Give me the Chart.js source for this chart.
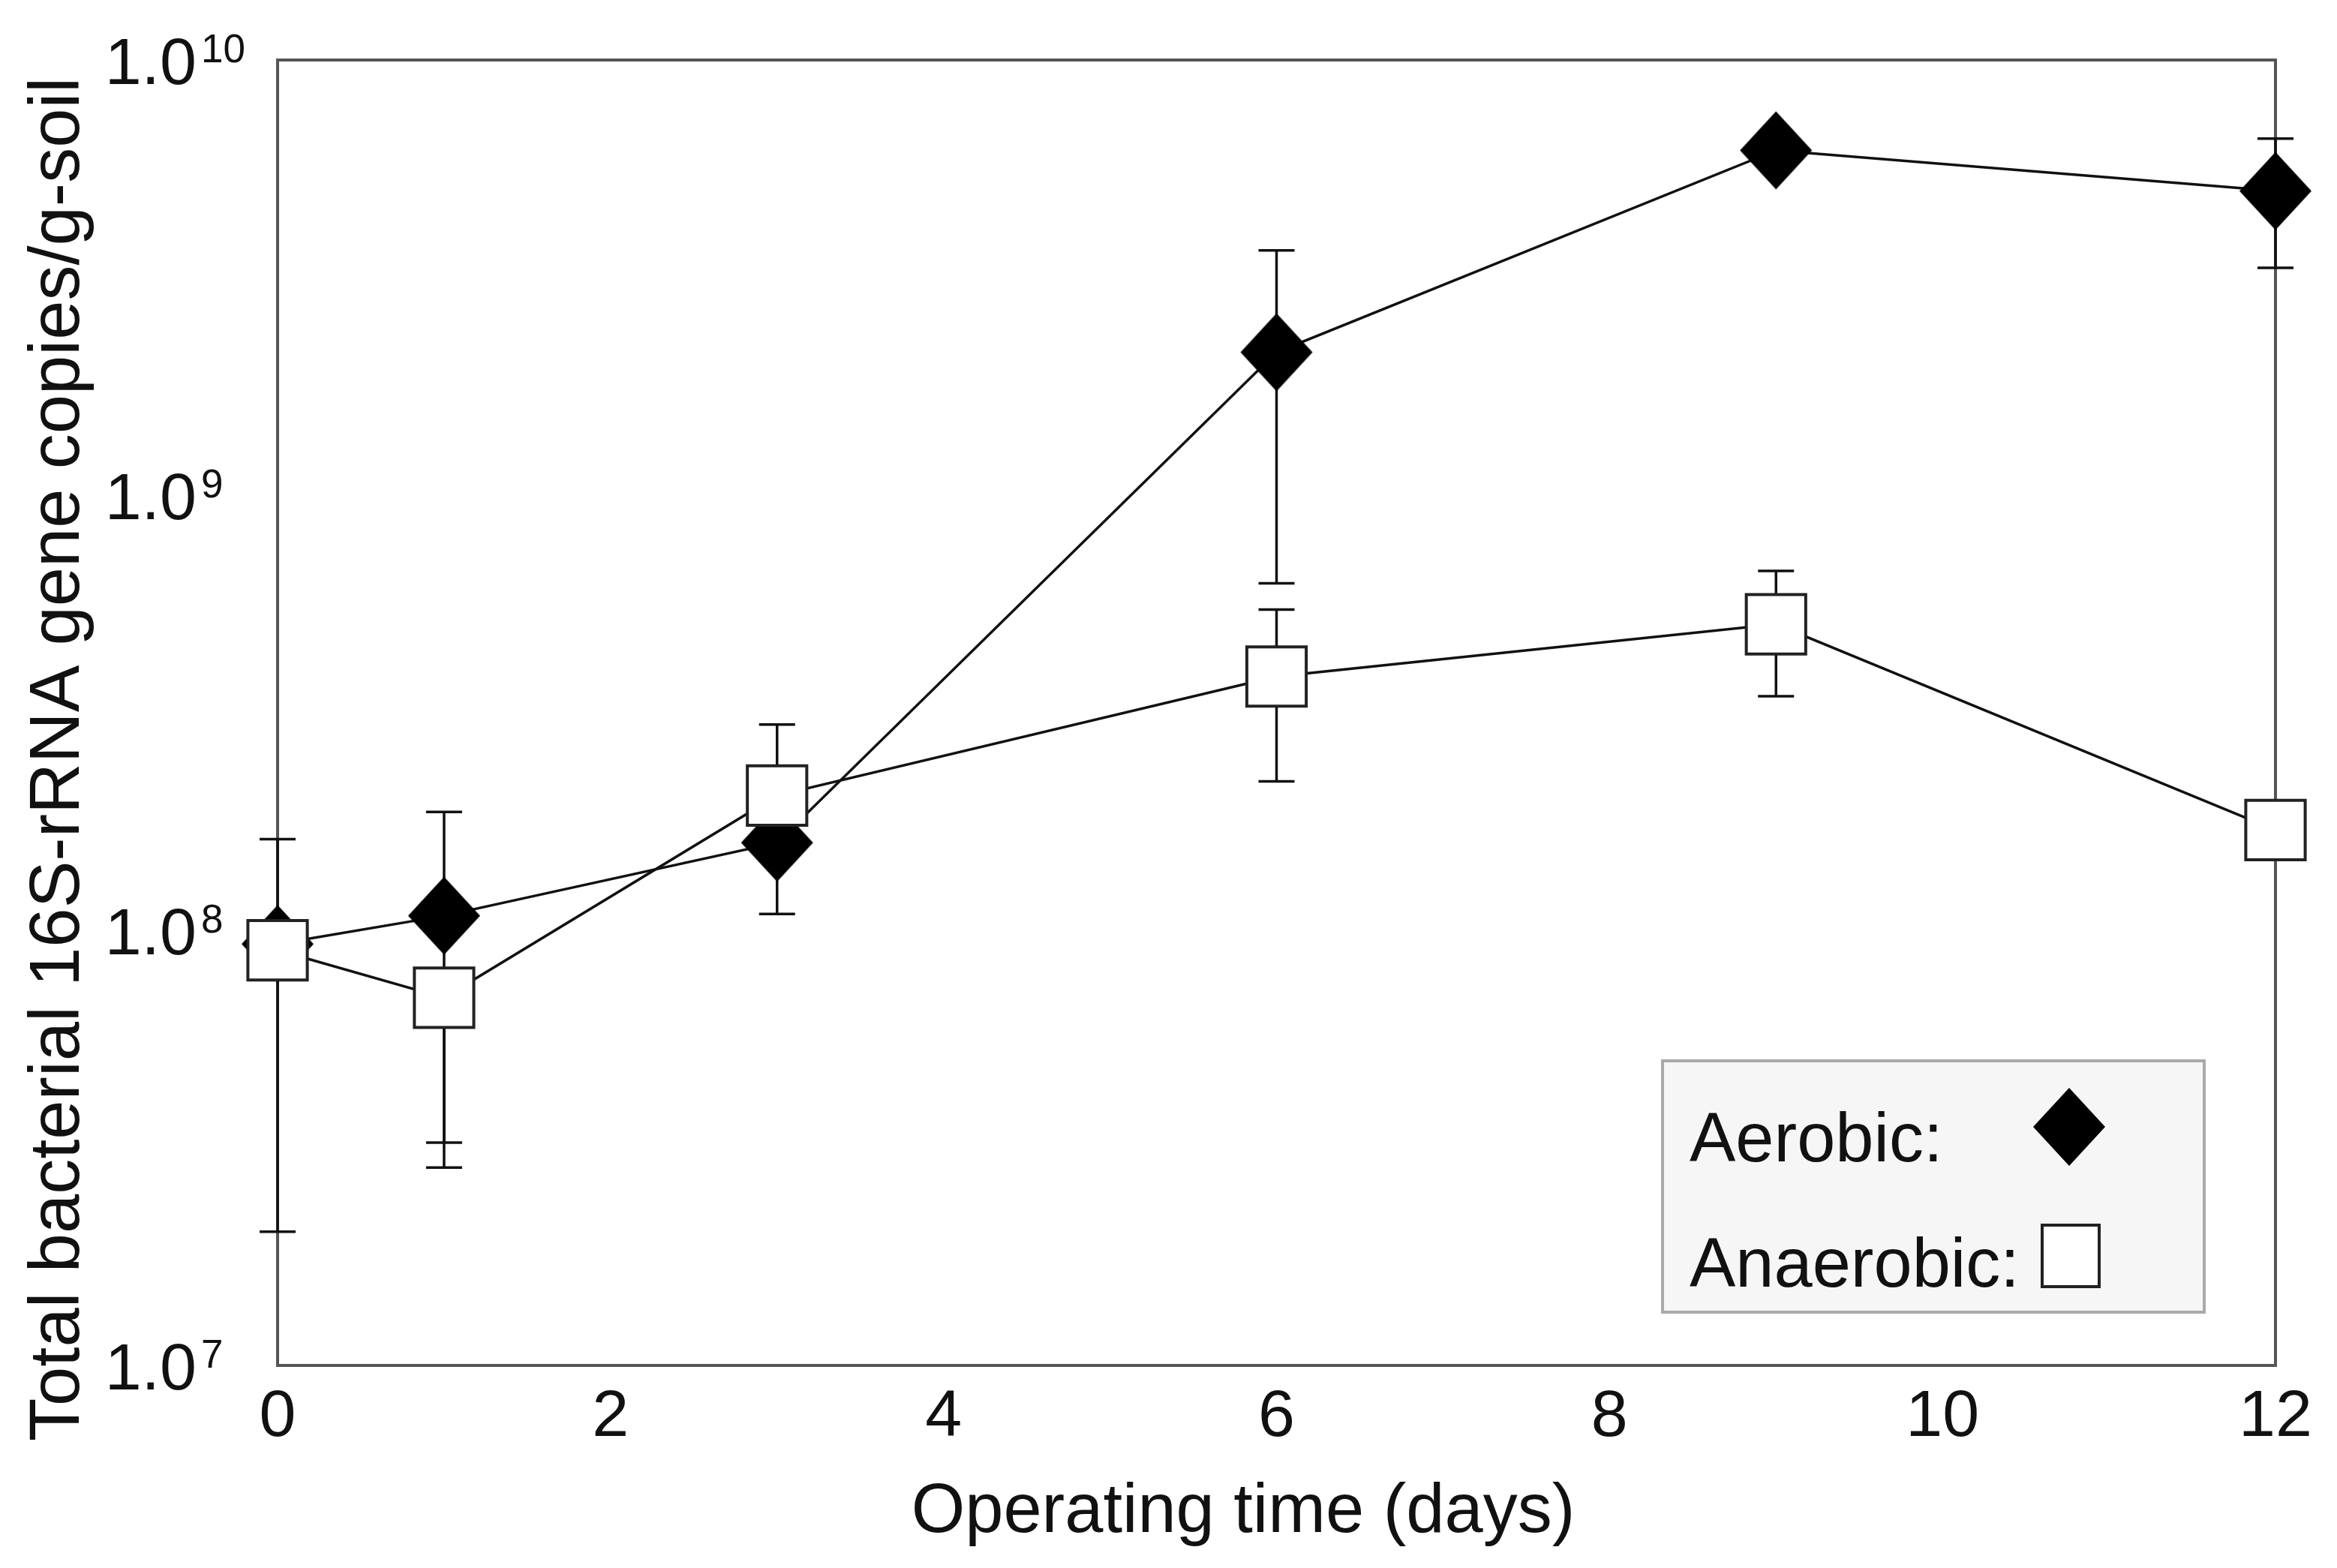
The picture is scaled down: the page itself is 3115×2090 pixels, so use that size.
<!DOCTYPE html>
<html>
<head>
<meta charset="utf-8">
<title>Total bacterial 16S-rRNA gene copies</title>
<script src="https://cdn.jsdelivr.net/npm/chart.js@4/dist/chart.umd.min.js"></script>
<style>
  html, body { margin: 0; padding: 0; background: #fff; }
  #wrap { width: 3115px; height: 2090px; }
</style>
</head>
<body>
<div id="wrap"><canvas id="soilChart" width="3115" height="2090"></canvas></div>
<script>
// ==================== DATA ====================
const days = [0, 1, 3, 6, 9, 12];

const aerobicMean = [9.3e7, 1.08e8, 1.59e8, 2.13e9, 6.2e9, 5.0e9];
const aerobicLow  = [2.03e7, 2.85e7, 1.09e8, 6.27e8, null, 3.33e9];
const aerobicHigh = [1.62e8, 1.87e8, 2.0e8, 3.65e9, null, 6.6e9];

const anaerobicMean = [9.0e7, 7.0e7, 2.04e8, 3.83e8, 5.05e8, 1.70e8];
const anaerobicLow  = [null, 3.25e7, 1.6e8, 2.2e8, 3.45e8, null];
const anaerobicHigh = [null, null, 2.97e8, 5.46e8, 6.7e8, null];

const xTicks = [0, 2, 4, 6, 8, 10, 12];
const yTickExps = [7, 8, 9, 10];

const FONT = '"Liberation Sans", Arial, sans-serif';

// diamond marker (slightly taller than wide, like the original)
function makeDiamond(w, h) {
    const c = document.createElement('canvas');
    c.width = w + 4; c.height = h + 4;
    const g = c.getContext('2d');
    g.fillStyle = '#000';
    g.beginPath();
    g.moveTo(c.width / 2, 2);
    g.lineTo(c.width - 2, c.height / 2);
    g.lineTo(c.width / 2, c.height - 2);
    g.lineTo(2, c.height / 2);
    g.closePath();
    g.fill();
    return c;
}
const diamond = makeDiamond(96, 104);

// ==================== PLUGINS ====================
const errorBars = {
    id: 'errorBars',
    beforeDatasetsDraw(chart) {
        const { ctx, scales: { x, y } } = chart;
        const sets = [[aerobicLow, aerobicHigh, aerobicMean], [anaerobicLow, anaerobicHigh, anaerobicMean]];
        ctx.save();
        ctx.strokeStyle = '#111';
        ctx.lineWidth = 3.5;
        sets.forEach(([lo, hi, mean]) => {
            days.forEach((d, i) => {
                const px = x.getPixelForValue(d);
                const pm = y.getPixelForValue(mean[i]);
                [lo[i], hi[i]].forEach(v => {
                    if (v == null) return;
                    const pv = y.getPixelForValue(v);
                    ctx.beginPath();
                    ctx.moveTo(px, pm); ctx.lineTo(px, pv);
                    ctx.moveTo(px - 24, pv); ctx.lineTo(px + 24, pv);
                    ctx.stroke();
                });
            });
        });
        ctx.restore();
    }
};

const frameAndText = {
    id: 'frameAndText',
    beforeDatasetsDraw(chart) {
        const { ctx, chartArea: a, scales: { x, y } } = chart;
        ctx.save();
        // plot frame
        ctx.strokeStyle = '#555';
        ctx.lineWidth = 4;
        ctx.strokeRect(a.left, a.top, a.right - a.left, a.bottom - a.top);

        ctx.fillStyle = '#111';
        // x tick labels
        ctx.font = '88px ' + FONT;
        ctx.textAlign = 'center';
        ctx.textBaseline = 'alphabetic';
        xTicks.forEach(t => ctx.fillText(String(t), x.getPixelForValue(t), 1914));

        // y tick labels: 1.0 with superscript exponent
        yTickExps.forEach(e => {
            const py = y.getPixelForValue(Math.pow(10, e));
            ctx.font = '88px ' + FONT;
            ctx.textAlign = 'right';
            ctx.fillText('1.0', 262, py + 32);
            ctx.font = '53px ' + FONT;
            ctx.textAlign = 'left';
            ctx.fillText(String(e), 268, py + 3);
        });

        // axis titles
        ctx.font = '92px ' + FONT;
        ctx.textAlign = 'center';
        ctx.fillText('Operating time (days)', 1657, 2042);

        ctx.save();
        ctx.translate(105, 1921);
        ctx.rotate(-Math.PI / 2);
        ctx.textAlign = 'left';
        ctx.font = '94px ' + FONT;
        ctx.fillText('Total bacterial 16S-rRNA gene copies/g-soil', 0, 0);
        ctx.restore();
        ctx.restore();
    },
    afterDatasetsDraw(chart) {
        const { ctx } = chart;
        ctx.save();
        // legend box
        ctx.fillStyle = '#f6f6f6';
        ctx.fillRect(2216, 1414, 722, 335);
        ctx.strokeStyle = '#aaa';
        ctx.lineWidth = 4;
        ctx.strokeRect(2216, 1414, 722, 335);

        ctx.fillStyle = '#111';
        ctx.font = '92px ' + FONT;
        ctx.textAlign = 'left';
        ctx.textBaseline = 'alphabetic';
        ctx.fillText('Aerobic:', 2252, 1548);
        ctx.fillText('Anaerobic:', 2252, 1715);

        ctx.drawImage(diamond, 2758 - diamond.width / 2, 1502 - diamond.height / 2);
        ctx.fillStyle = '#fff';
        ctx.fillRect(2722, 1633, 76, 82);
        ctx.strokeStyle = '#222';
        ctx.lineWidth = 4;
        ctx.strokeRect(2722, 1633, 76, 82);
        ctx.restore();
    }
};

// ==================== CHART ====================
new Chart(document.getElementById('soilChart').getContext('2d'), {
    type: 'line',
    data: {
        datasets: [
            {
                label: 'Anaerobic:',
                data: days.map((d, i) => ({ x: d, y: anaerobicMean[i] })),
                borderColor: '#111',
                borderWidth: 3.5,
                backgroundColor: '#fff',
                pointStyle: 'rect',
                pointRadius: 56,
                pointBorderWidth: 4,
                pointBorderColor: '#222',
                pointBackgroundColor: '#fff',
                tension: 0,
                clip: false,
                order: 0
            },
            {
                label: 'Aerobic:',
                data: days.map((d, i) => ({ x: d, y: aerobicMean[i] })),
                borderColor: '#111',
                borderWidth: 3.5,
                backgroundColor: '#000',
                pointStyle: diamond,
                tension: 0,
                clip: false,
                order: 1
            }
        ]
    },
    options: {
        responsive: false,
        animation: false,
        events: [],
        layout: { padding: { left: 370, top: 80, right: 82, bottom: 270 } },
        plugins: { legend: { display: false }, tooltip: { enabled: false } },
        scales: {
            x: { type: 'linear', min: 0, max: 12, display: false },
            y: { type: 'logarithmic', min: 1e7, max: 1e10, display: false }
        }
    },
    plugins: [frameAndText, errorBars]
});
</script>
</body>
</html>
